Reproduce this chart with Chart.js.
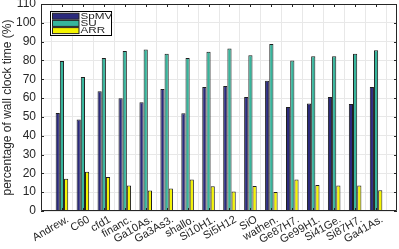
<!DOCTYPE html>
<html>
<head>
<meta charset="utf-8">
<script src="https://cdn.jsdelivr.net/npm/chart.js@4/dist/chart.umd.min.js"></script>
<style>
html,body{margin:0;padding:0;background:#fff;}
#wrap{width:399px;height:249px;}
</style>
</head>
<body>
<div id="wrap"><canvas id="c" width="399" height="249"></canvas></div>
<script>
const categories = ["Andrew.", "C60", "cfd1", "financ.", "Ga10As.", "Ga3As3.", "shallo.", "Si10H1.", "Si5H12", "SiO", "wathen.", "Ge87H7.", "Ge99H1.", "Si41Ge.", "Si87H7.", "Ga41As."];
const spmv = [52.1, 48.6, 63.6, 59.9, 57.8, 64.8, 51.9, 65.9, 66.4, 60.6, 69.2, 55.3, 57.1, 60.6, 56.9, 65.9];
const su   = [79.7, 71.2, 81.3, 85.0, 85.8, 83.5, 81.3, 84.6, 86.3, 82.8, 88.7, 80.0, 82.3, 82.3, 83.5, 85.4];
const arr  = [17.2, 20.9, 18.1, 13.5, 10.9, 11.9, 16.7, 13.1, 10.3, 13.3, 10.1, 16.7, 13.8, 13.5, 13.5, 11.0];
const seriesNames = ["SpMV", "SU", "ARR"];
const yTitle = "percentage of wall clock time (%)";

// one empty slot on each side gives the axis a full category of padding
const labels = [""].concat(categories, [""]);
const pad = a => [null].concat(a, [null]);

const FONT = "'Liberation Sans', Arial, Helvetica, sans-serif";
const AX = "#262626";
const colors = ["#2b2a7c", "#36b59c", "#f4f400"];

const boxPlugin = {
  id: "box",
  afterDraw(chart) {
    const ctx = chart.ctx, a = chart.chartArea;
    const xs = chart.scales.x, ys = chart.scales.y;
    ctx.save();
    ctx.strokeStyle = AX;
    ctx.lineWidth = 1;
    ctx.beginPath();
    ctx.rect(Math.round(a.left) + 0.5, Math.round(a.top) + 0.5,
             Math.round(a.right - a.left) - 1, Math.round(a.bottom - a.top) - 1);
    ctx.stroke();
    const L = 3;
    ctx.beginPath();
    ys.ticks.forEach(t => {
      const y = Math.round(ys.getPixelForValue(t.value)) + 0.5;
      ctx.moveTo(a.left, y); ctx.lineTo(a.left + L, y);
      ctx.moveTo(a.right, y); ctx.lineTo(a.right - L, y);
    });
    for (let i = 1; i <= categories.length; i++) {
      const x = Math.round(xs.getPixelForValue(i)) + 0.5;
      ctx.moveTo(x, a.bottom); ctx.lineTo(x, a.bottom - L);
      ctx.moveTo(x, a.top); ctx.lineTo(x, a.top + L);
    }
    ctx.stroke();
    // legend
    const lx = 50, ly = 11, lw = 62, lh = 25;
    ctx.fillStyle = "#fff";
    ctx.fillRect(lx, ly, lw, lh);
    ctx.strokeStyle = "#000";
    ctx.strokeRect(lx + 0.5, ly + 0.5, lw - 1, lh - 1);
    ctx.textBaseline = "middle";
    chart.data.datasets.forEach((ds, i) => {
      const cy = ly + 4.7 + i * 7.2;
      ctx.fillStyle = ds.backgroundColor;
      ctx.fillRect(52.5, cy - 2.5, 26.5, 6);
      ctx.strokeStyle = "#222";
      ctx.strokeRect(52.5, cy - 2.5, 26.5, 6);
      ctx.save();
      ctx.translate(80.5, cy + 0.5);
      ctx.scale(1.3, 1);
      ctx.font = "9px " + FONT;
      ctx.fillStyle = AX;
      ctx.fillText(ds.label, 0, 0);
      ctx.restore();
    });
    ctx.restore();
  }
};

new Chart(document.getElementById("c"), {
  type: "bar",
  data: {
    labels: labels,
    datasets: [
      { label: seriesNames[0], data: pad(spmv), backgroundColor: colors[0] },
      { label: seriesNames[1], data: pad(su), backgroundColor: colors[1] },
      { label: seriesNames[2], data: pad(arr), backgroundColor: colors[2] }
    ].map(d => Object.assign(d, { borderColor: "#1e1e1e", borderWidth: 1, categoryPercentage: 0.6, barPercentage: 1.0 }))
  },
  options: {
    responsive: false,
    animation: false,
    layout: { padding: { top: 4, right: 2, left: 0, bottom: 0 } },
    plugins: { legend: { display: false }, tooltip: { enabled: false } },
    scales: {
      x: {
        offset: false,
        grid: { display: true, color: "#e8e8e8", drawTicks: false, lineWidth: 1 },
        border: { display: false },
        ticks: { autoSkip: false, maxRotation: 30, minRotation: 30, padding: 2, labelOffset: 6,
                 color: AX, font: { family: FONT, size: 11 } },
        afterFit(s) { s.height = 38; s.paddingLeft = 0; s.paddingRight = 0; }
      },
      y: {
        min: 0, max: 110,
        grid: { color: "#e8e8e8", drawTicks: false, lineWidth: 1 },
        border: { display: false },
        ticks: { stepSize: 10, padding: 5, color: AX, font: { family: FONT, size: 12 } },
        title: { display: true, text: yTitle, color: AX, padding: { top: 0, bottom: 2 },
                 font: { family: FONT, size: 12 } },
        afterFit(s) { s.width = 41; s.paddingTop = 0; s.paddingBottom = 0; }
      }
    }
  },
  plugins: [boxPlugin]
});
</script>
</body>
</html>
